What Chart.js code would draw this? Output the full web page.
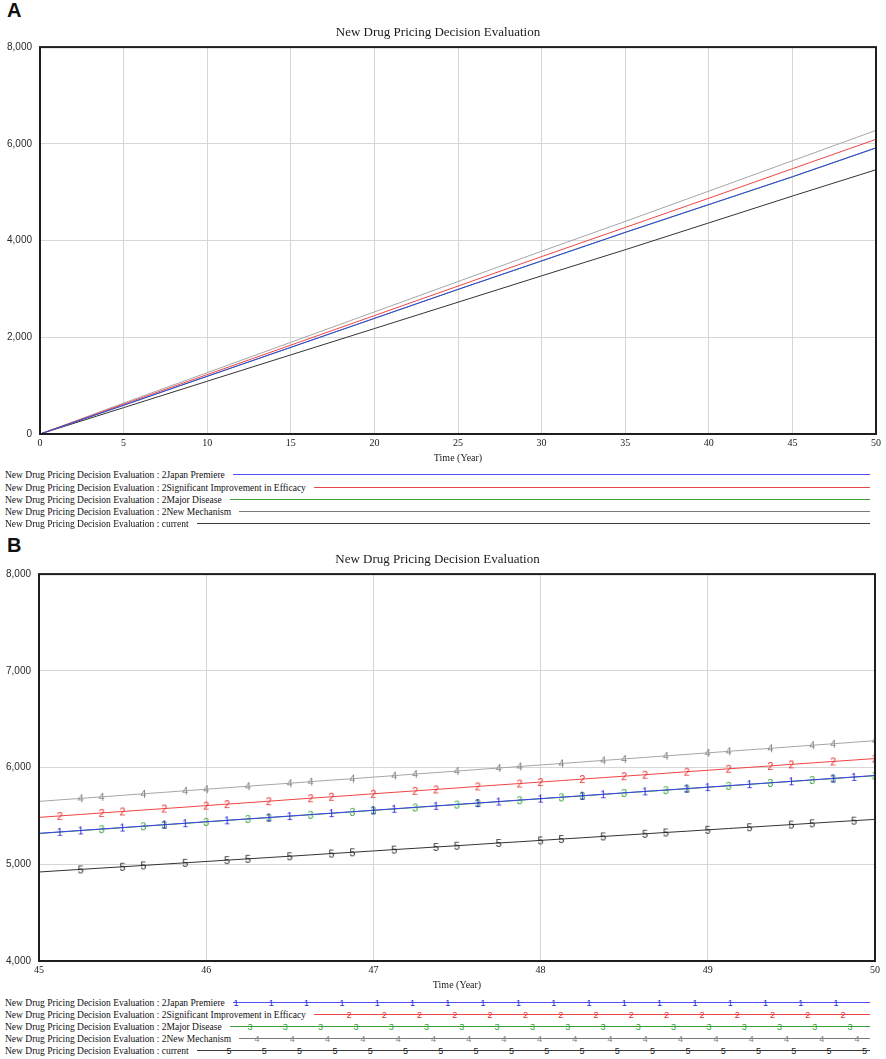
<!DOCTYPE html>
<html>
<head>
<meta charset="utf-8">
<title>New Drug Pricing Decision Evaluation</title>
<script src="https://cdn.jsdelivr.net/npm/chart.js@4.4.1/dist/chart.umd.min.js"></script>
<style>
body { margin: 0; background: #fff; }
#page { position: relative; width: 886px; height: 1059px; overflow: hidden; font-family: "Liberation Serif", "Times New Roman", serif; }
.tag { position: absolute; left: 7px; font: bold 20px/20px "Liberation Sans", Arial, sans-serif; color: #111; }
canvas { position: absolute; left: 0; }
.row { position: absolute; left: 5px; height: 12px; line-height: 12px; font-size: 9.5px; color: #111; white-space: nowrap; }
.key { position: absolute; height: 1px; }
.mk { position: absolute; font: 9px/10px "Liberation Sans", Arial, sans-serif; transform: translate(-50%, -50%); }
</style>
</head>
<body>
<div id="page">
  <div class="tag" style="top:0">A</div>
  <canvas id="chartA" width="886" height="464" style="top:0"></canvas>
  <div class="tag" style="top:535px">B</div>
  <canvas id="chartB" width="886" height="464" style="top:527px"></canvas>
</div>
<script>
// series names (same order in both panels)
const names = [
  'New Drug Pricing Decision Evaluation : 2Japan Premiere',
  'New Drug Pricing Decision Evaluation : 2Significant Improvement in Efficacy',
  'New Drug Pricing Decision Evaluation : 2Major Disease',
  'New Drug Pricing Decision Evaluation : 2New Mechanism',
  'New Drug Pricing Decision Evaluation : current'
];

// Panel A: 0-50 years
const yearsA = [0, 5, 10, 15, 20, 25, 30, 35, 40, 45, 50];
const japanA     = [0, 595, 1194, 1793, 2392, 2991, 3580, 4170, 4745, 5320, 5918];
const efficacyA  = [0, 618, 1228, 1838, 2448, 3058, 3668, 4270, 4875, 5485, 6093];
const majorA     = [0, 594, 1192, 1790, 2389, 2988, 3577, 4167, 4742, 5316, 5913];
const mechanismA = [0, 640, 1268, 1896, 2524, 3152, 3780, 4395, 5022, 5650, 6278];
const currentA   = [0, 545, 1091, 1636, 2180, 2725, 3270, 3810, 4365, 4920, 5464];
const xTicksA = [0, 5, 10, 15, 20, 25, 30, 35, 40, 45, 50];
const yTicksA = [0, 2000, 4000, 6000, 8000];

// Panel B: zoom on 45-50 years
const yearsB = [45, 45.125, 45.25, 45.375, 45.5, 45.625, 45.75, 45.875,
  46, 46.125, 46.25, 46.375, 46.5, 46.625, 46.75, 46.875,
  47, 47.125, 47.25, 47.375, 47.5, 47.625, 47.75, 47.875,
  48, 48.125, 48.25, 48.375, 48.5, 48.625, 48.75, 48.875,
  49, 49.125, 49.25, 49.375, 49.5, 49.625, 49.75, 49.875, 50];
const japanB = [5320, 5335, 5350, 5365, 5380, 5395, 5410, 5425,
  5440, 5455, 5470, 5484, 5499, 5514, 5529, 5544,
  5559, 5574, 5589, 5604, 5619, 5634, 5649, 5664,
  5679, 5694, 5709, 5724, 5739, 5754, 5768, 5783,
  5798, 5813, 5828, 5843, 5858, 5873, 5888, 5903, 5918];
const efficacyB = [5485, 5500, 5515, 5531, 5546, 5561, 5576, 5591,
  5607, 5622, 5637, 5652, 5668, 5683, 5698, 5713,
  5729, 5744, 5759, 5774, 5789, 5805, 5820, 5835,
  5850, 5865, 5881, 5896, 5911, 5926, 5941, 5957,
  5972, 5987, 6002, 6017, 6033, 6048, 6063, 6078, 6093];
const majorB = [5318, 5333, 5348, 5363, 5378, 5393, 5408, 5423,
  5438, 5453, 5468, 5482, 5497, 5512, 5527, 5542,
  5557, 5572, 5587, 5602, 5617, 5632, 5647, 5662,
  5677, 5692, 5707, 5722, 5737, 5752, 5766, 5781,
  5796, 5811, 5826, 5841, 5856, 5871, 5886, 5901, 5916];
const mechanismB = [5650, 5666, 5681, 5697, 5713, 5729, 5744, 5760,
  5776, 5791, 5807, 5823, 5838, 5854, 5870, 5885,
  5901, 5917, 5933, 5948, 5964, 5980, 5995, 6011,
  6027, 6042, 6058, 6074, 6089, 6105, 6121, 6136,
  6152, 6168, 6184, 6199, 6215, 6231, 6246, 6262, 6278];
const currentB = [4920, 4934, 4947, 4961, 4974, 4988, 5002, 5015,
  5029, 5043, 5056, 5070, 5083, 5097, 5111, 5124,
  5138, 5152, 5165, 5179, 5192, 5206, 5220, 5233,
  5247, 5261, 5274, 5288, 5301, 5315, 5329, 5342,
  5356, 5370, 5383, 5397, 5410, 5424, 5438, 5451, 5464];
const xTicksB = [45, 46, 47, 48, 49, 50];
const yTicksB = [4000, 5000, 6000, 7000, 8000];

// which points of panel B carry the number markers (index into yearsB)
const japanMarks     = [1, 2, 4, 6, 7, 9, 11, 12, 14, 16, 17, 19, 21, 22, 24, 26, 27, 29, 31, 32, 34, 36, 38, 39];
const efficacyMarks  = [1, 3, 4, 6, 8, 9, 11, 13, 14, 16, 18, 19, 21, 23, 24, 26, 28, 29, 31, 33, 35, 36, 38, 40];
const majorMarks     = [3, 5, 6, 8, 10, 11, 13, 15, 16, 18, 20, 21, 23, 25, 26, 28, 30, 31, 33, 35, 37, 38, 40];
const mechanismMarks = [2, 3, 5, 7, 8, 10, 12, 13, 15, 17, 18, 20, 22, 23, 25, 27, 28, 30, 32, 33, 35, 37, 38, 40];
const currentMarks   = [2, 4, 5, 7, 9, 10, 12, 14, 15, 17, 19, 20, 22, 24, 25, 27, 29, 30, 32, 34, 36, 37, 39];

const lineColors = ['#4040f0', '#f04444', '#34a034', '#a6a6a6', '#333333'];
const keyColors  = ['#5050f2', '#e84848', '#3a9e3a', '#7a7a7a', '#3a3a3a'];
const markColors = ['#2626d6', '#e82c2c', '#34a034', '#808080', '#1c1c1c'];

// box around the plot area
const frame = {
  id: 'frame',
  afterDraw(chart) {
    const { ctx, chartArea: a } = chart;
    ctx.save();
    ctx.strokeStyle = '#1e1e1e';
    ctx.lineWidth = 2;
    ctx.strokeRect(a.left, a.top, a.right - a.left, a.bottom - a.top);
    ctx.restore();
  }
};

function digitImage(d, color) {
  const c = document.createElement('canvas');
  c.width = 9; c.height = 14;
  const g = c.getContext('2d');
  g.fillStyle = color;
  g.font = '10.5px "Liberation Sans", Arial, sans-serif';
  g.textAlign = 'center';
  g.textBaseline = 'middle';
  g.fillText(String(d), 4.5, 8);
  return c;
}

function makeChart(id, xs, series, xTicks, yTicks, left, right, marks) {
  const datasets = series.map((s, i) => ({
    label: names[i],
    data: xs.map((x, j) => ({ x: x, y: s[j] })),
    borderColor: lineColors[i],
    borderWidth: 1,
    tension: 0,
    pointRadius: marks ? (c => marks[i].includes(c.dataIndex) ? 4 : 0) : 0,
    pointStyle: marks ? digitImage(i + 1, markColors[i]) : 'circle'
  }));
  return new Chart(document.getElementById(id), {
    type: 'line',
    data: { datasets },
    options: {
      responsive: false,
      animation: false,
      events: [],
      layout: { padding: { right: 886 - right } },
      plugins: {
        legend: { display: false },
        tooltip: { enabled: false },
        title: {
          display: true,
          text: 'New Drug Pricing Decision Evaluation',
          color: '#1a1a1a',
          font: { family: 'Liberation Serif', size: 13, weight: 'normal' },
          padding: { top: 24.5, bottom: 7 }
        }
      },
      scales: {
        x: {
          type: 'linear',
          min: xTicks[0],
          max: xTicks[xTicks.length - 1],
          ticks: {
            stepSize: xTicks[1] - xTicks[0], autoSkip: false, maxRotation: 0, padding: 3,
            color: '#1a1a1a', font: { family: 'Liberation Serif', size: 10 }
          },
          grid: { color: '#d6d6d6', drawTicks: false },
          border: { display: false },
          title: {
            display: true, text: 'Time (Year)', color: '#1a1a1a',
            font: { family: 'Liberation Serif', size: 10 }, padding: { top: 0, bottom: 0 }
          }
        },
        y: {
          min: yTicks[0],
          max: yTicks[yTicks.length - 1],
          ticks: {
            stepSize: yTicks[1] - yTicks[0], padding: 8, color: '#2a2a2a',
            font: { family: 'Liberation Sans', size: 10 },
            callback: v => v.toLocaleString('en-US')
          },
          grid: { color: '#d6d6d6', drawTicks: false },
          border: { display: false },
          afterFit: s => { s.width = left; }
        }
      }
    },
    plugins: [frame]
  });
}

makeChart('chartA', yearsA, [japanA, efficacyA, majorA, mechanismA, currentA], xTicksA, yTicksA, 40, 876, null);
makeChart('chartB', yearsB, [japanB, efficacyB, majorB, mechanismB, currentB], xTicksB, yTicksB, 39, 875,
  [japanMarks, efficacyMarks, majorMarks, mechanismMarks, currentMarks]);

// legends under each panel
const markStart = [236, 243, 250, 257, 229];
function buildLegend(rowYs, withMarks) {
  const page = document.getElementById('page');
  names.forEach((name, i) => {
    const y = rowYs[i];
    const row = document.createElement('div');
    row.className = 'row';
    row.style.top = (y - 5) + 'px';
    const span = document.createElement('span');
    span.textContent = name;
    row.appendChild(span);
    page.appendChild(row);
    const start = 5 + span.getBoundingClientRect().width + 8;
    const key = document.createElement('div');
    key.className = 'key';
    key.style.left = start + 'px';
    key.style.top = y + 'px';
    key.style.width = (870 - start) + 'px';
    key.style.background = keyColors[i];
    page.appendChild(key);
    if (!withMarks) return;
    for (let x = markStart[i]; x <= 868; x += 35.3) {
      if (x < start + 2) continue;
      const m = document.createElement('span');
      m.className = 'mk';
      m.textContent = String(i + 1);
      m.style.left = x + 'px';
      m.style.top = (y + 0.5) + 'px';
      m.style.color = markColors[i];
      page.appendChild(m);
    }
  });
}
buildLegend([474, 486.5, 498.5, 511, 523], false);
buildLegend([1002, 1014, 1026, 1038, 1050], true);
</script>
</body>
</html>
